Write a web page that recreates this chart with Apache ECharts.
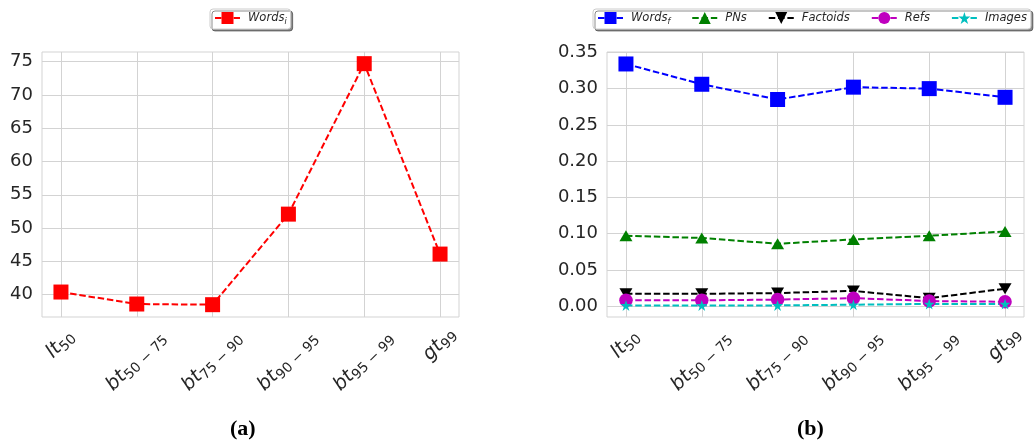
<!DOCTYPE html>
<html>
<head>
<meta charset="utf-8">
<script src="https://cdn.jsdelivr.net/npm/echarts@6/dist/echarts.min.js"></script>
<style>html,body{margin:0;padding:0;background:#fff;}#c{width:1035px;height:442px;}</style>
</head>
<body>
<div id="c"></div>
<script>
// ---- data ----
const catMain = ['lt', 'bt', 'bt', 'bt', 'bt', 'gt'];
const catSub = ['50', '50 \u2212 75', '75 \u2212 90', '90 \u2212 95', '95 \u2212 99', '99'];
const wordsI = [40.4, 38.6, 38.5, 52.1, 74.7, 46.1];
const wordsF = [0.334, 0.306, 0.285, 0.302, 0.300, 0.288];
const pns = [0.097, 0.094, 0.086, 0.092, 0.097, 0.103];
const factoids = [0.017, 0.017, 0.018, 0.021, 0.011, 0.024];
const refs = [0.008, 0.008, 0.009, 0.011, 0.007, 0.006];
const images = [0.001, 0.001, 0.001, 0.002, 0.003, 0.003];
const leftTicks = [40, 45, 50, 55, 60, 65, 70, 75];
const rightTicks = [0, 0.05, 0.10, 0.15, 0.20, 0.25, 0.30, 0.35];

// ---- styles ----
const gridColor = '#d3d3d3';
const txt = '#262626';
const catIdx = catMain.map((_, i) => i);
const pairs = arr => arr.map((v, i) => [i, v]);
const starPath = 'path://M100,0 L77.55,69.1 L4.9,69.1 L63.7,111.8 L41.2,180.9 L100,138.2 L158.8,180.9 L136.3,111.8 L195.1,69.1 L122.45,69.1 Z';
const downTri = 'path://M0,0 L20,0 L10,17 Z';
const upTri = 'path://M10,0 L20,17 L0,17 Z';

const labelRich = {
  m: {fontFamily: 'DejaVu Sans', fontStyle: 'italic', fontSize: 19.5, lineHeight: 22, verticalAlign: 'top', padding: [0, 0, 4, 0], color: txt},
  s: {fontFamily: 'DejaVu Sans', fontSize: 13.8, lineHeight: 15, verticalAlign: 'bottom', color: txt}
};
function catLabel(v) {
  const i = Math.round(v);
  return '{m|' + catMain[i] + '}{s|' + catSub[i] + '}';
}
function xAxes(gridIndex) {
  const base = {
    type: 'value', gridIndex: gridIndex, min: -0.25, max: 5.25, position: 'bottom',
    axisLine: {show: false}
  };
  return [
    Object.assign({}, base, {
      axisTick: {show: false, customValues: catIdx},
      splitLine: {show: true, lineStyle: {color: gridColor, width: 1}},
      axisLabel: {customValues: [1, 2, 3, 4], rotate: 45, align: 'center', verticalAlign: 'middle',
        margin: 45, formatter: catLabel, rich: labelRich}
    }),
    Object.assign({}, base, {
      axisTick: {show: false, customValues: [0, 5]},
      splitLine: {show: false},
      axisLabel: {customValues: [0, 5], rotate: 45, align: 'center', verticalAlign: 'middle',
        margin: 28, formatter: catLabel, rich: labelRich}
    })
  ];
}
function yAxis(gridIndex, min, max, ticks, fmt) {
  return {
    type: 'value', gridIndex: gridIndex, min: min, max: max,
    axisLine: {show: false},
    axisTick: {show: false, customValues: ticks},
    splitLine: {show: true, lineStyle: {color: gridColor, width: 1}},
    axisLabel: {customValues: ticks, margin: 9, fontFamily: 'DejaVu Sans', fontSize: 18, color: txt, formatter: fmt}
  };
}
const dash = [6.5, 2.8];
function lineSeries(name, data, color, symbol, size, xi, yi) {
  return {
    name: name, type: 'line', xAxisIndex: xi, yAxisIndex: yi, data: pairs(data),
    symbol: symbol, symbolSize: size, showSymbol: true,
    lineStyle: {color: color, width: 2, type: dash},
    itemStyle: {color: color, borderWidth: 0},
    emphasis: {disabled: true}, animation: false
  };
}
const legendText = {
  fontFamily: 'DejaVu Sans', fontStyle: 'italic', fontSize: 11.5, color: txt,
  rich: {
    it: {fontFamily: 'DejaVu Sans', fontStyle: 'italic', fontSize: 11.5, color: txt, padding: [0, 0, 0, 3]},
    sub: {fontFamily: 'DejaVu Sans', fontStyle: 'italic', fontSize: 8, color: txt, verticalAlign: 'bottom', padding: [0, 0, -2, 0]}
  }
};
function legendFmt(name) {
  const p = name.split('_');
  return p.length > 1 ? '{it|' + p[0] + '}{sub|' + p[1] + '}' : '{it|' + name + '}';
}
const legendBase = {
  top: 9, orient: 'horizontal', padding: [3, 4, 3, 4], itemWidth: 25, itemHeight: 15, itemGap: 21,
  borderColor: '#cccccc', borderWidth: 1, borderRadius: 3, backgroundColor: '#ffffff',
  shadowColor: 'rgba(0,0,0,0.45)', shadowBlur: 0, shadowOffsetX: 2, shadowOffsetY: 2,
  textStyle: legendText, formatter: legendFmt, selectedMode: false
};

const chart = echarts.init(document.getElementById('c'), null, {renderer: 'canvas'});
chart.setOption({
  animation: false,
  backgroundColor: '#ffffff',
  title: [
    {text: '(a)', left: 225, top: 413, textStyle: {fontFamily: 'Liberation Serif', fontWeight: 'bold', fontSize: 22, color: '#000'}},
    {text: '(b)', left: 792, top: 413, textStyle: {fontFamily: 'Liberation Serif', fontWeight: 'bold', fontSize: 22, color: '#000'}}
  ],
  legend: [
    Object.assign({}, legendBase, {left: 210, data: ['Words_i']}),
    Object.assign({}, legendBase, {left: 593, data: ['Words_f', 'PNs', 'Factoids', 'Refs', 'Images']})
  ],
  grid: [
    {left: 42, top: 52, width: 417, height: 265, show: true, borderColor: gridColor, borderWidth: 1, backgroundColor: 'transparent', outerBoundsMode: 'none', containLabel: false},
    {left: 607, top: 52, width: 417, height: 265, show: true, borderColor: gridColor, borderWidth: 1, backgroundColor: 'transparent', outerBoundsMode: 'none', containLabel: false}
  ],
  xAxis: xAxes(0).concat(xAxes(1)),
  yAxis: [
    yAxis(0, 36.65, 76.45, leftTicks, v => String(v)),
    yAxis(1, -0.015, 0.3505, rightTicks, v => v.toFixed(2))
  ],
  series: [
    lineSeries('Words_i', wordsI, '#ff0000', 'rect', 15, 0, 0),
    lineSeries('Words_f', wordsF, '#0000ff', 'rect', 15, 2, 1),
    lineSeries('PNs', pns, '#008000', upTri, [13, 11], 2, 1),
    lineSeries('Factoids', factoids, '#000000', downTri, [13, 11], 2, 1),
    lineSeries('Refs', refs, '#bf00bf', 'circle', 13.5, 2, 1),
    lineSeries('Images', images, '#00bfbf', starPath, 11, 2, 1)
  ]
});
</script>
</body>
</html>
